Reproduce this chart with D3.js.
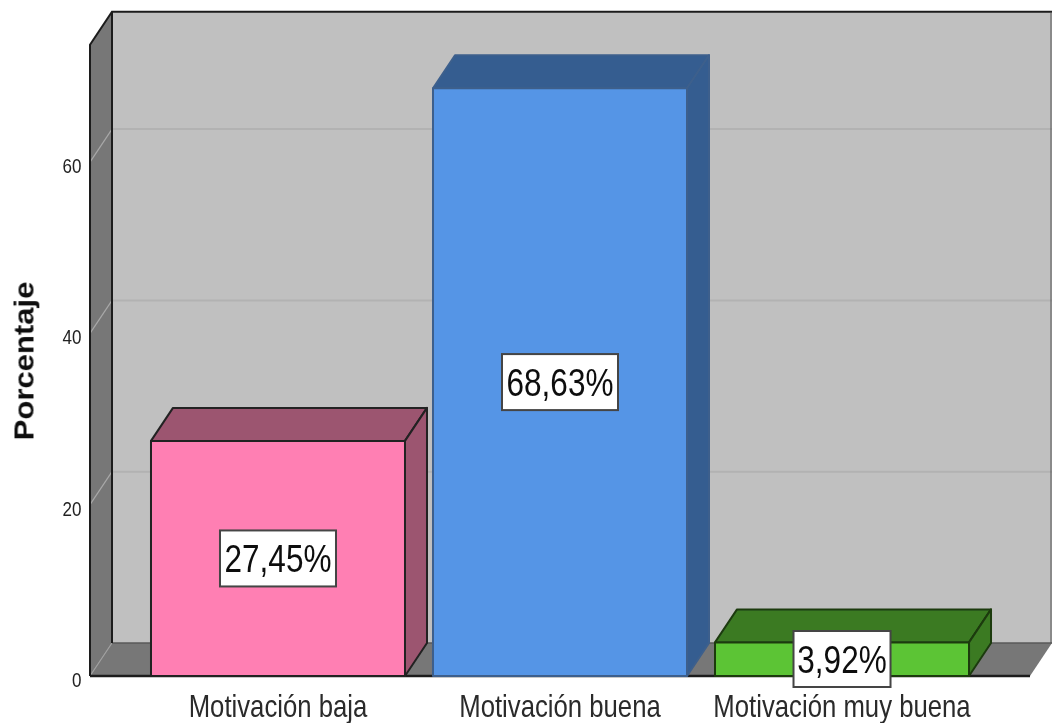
<!DOCTYPE html>
<html><head><meta charset="utf-8">
<script src="https://cdn.jsdelivr.net/npm/d3@7"></script>
<style>html,body{margin:0;padding:0;background:#fff}svg{display:block}text{font-family:"Liberation Sans",Arial,sans-serif}polygon{stroke-linejoin:round}</style>
</head><body><div id="c"></div>
<script>
const categories = ["Motivación baja","Motivación buena","Motivación muy buena"];
const values = [27.45,68.63,3.92];
const valueLabels = ["27,45%","68,63%","3,92%"];
const frontColors = ["#ff7fb3","#5595e6","#5cc435"];
const topColors = ["#9c5470","#345d90","#3b7a24"];
const sideColors = ["#9c5470","#345d90","#3b7a24"];
const edgeColors = ["#222","#3d5f8c","#1c3a10"];
const yTicks = [0,20,40,60];
const W=1052,H=723, dx=22, dy=-33;
const y=d3.scaleLinear().domain([0,80]).range([676,-9.2]);
const x=d3.scaleBand().domain(categories).range([137,983]).paddingInner(0.0993).paddingOuter(0.0496);
const xL=90,xR=1030,yTop=y(73.7);
const svg=d3.select("#c").append("svg").attr("width",W).attr("height",H);
const defs=svg.append("defs");
const blur=defs.append("filter").attr("id","soft").attr("x","-5%").attr("y","-5%").attr("width","110%").attr("height","110%");
blur.append("feGaussianBlur").attr("stdDeviation",0.45);
const tblur=defs.append("filter").attr("id","tsoft").attr("filterUnits","userSpaceOnUse").attr("x",0).attr("y",0).attr("width",W).attr("height",H);
tblur.append("feGaussianBlur").attr("stdDeviation",0.35);
const g=svg.append("g").attr("filter","url(#soft)");
const poly=(pts,fill,stroke,sw)=>g.append("polygon").attr("points",pts.map(p=>p.join(",")).join(" ")).attr("fill",fill).attr("stroke",stroke||"none").attr("stroke-width",sw||0);
// back wall
poly([[xL+dx,yTop+dy],[W,yTop+dy],[W,y(0)+dy],[xL+dx,y(0)+dy]],"#c0c0c0");
// floor
poly([[xL,y(0)],[xL+dx,y(0)+dy],[W,y(0)+dy],[xR,y(0)]],"#777777");
// left wall
poly([[xL,yTop],[xL+dx,yTop+dy],[xL+dx,y(0)+dy],[xL,y(0)]],"#777777");
// gridlines
yTicks.filter(t=>t>0).forEach(t=>{
  g.append("line").attr("x1",xL+dx).attr("x2",W).attr("y1",y(t)+dy).attr("y2",y(t)+dy).attr("stroke","#b2b2b2").attr("stroke-width",2);
  g.append("line").attr("x1",xL).attr("x2",xL+dx).attr("y1",y(t)).attr("y2",y(t)+dy).attr("stroke","#a8a8a8").attr("stroke-width",1.2);
});
g.append("line").attr("x1",xL).attr("x2",xL+dx).attr("y1",y(0)).attr("y2",y(0)+dy).attr("stroke","#a0a0a0").attr("stroke-width",1.2);
g.append("line").attr("x1",xL+dx).attr("x2",W).attr("y1",y(0)+dy).attr("y2",y(0)+dy).attr("stroke","#5a5a5a").attr("stroke-width",1.5);
// frame
g.append("polyline").attr("points",[[xL,y(0)],[xL,yTop],[xL+dx,yTop+dy],[W,yTop+dy]].map(p=>p.join(",")).join(" ")).attr("fill","none").attr("stroke","#1c1c1c").attr("stroke-width",2);
g.append("line").attr("x1",xL+dx).attr("x2",xL+dx).attr("y1",yTop+dy).attr("y2",y(0)+dy).attr("stroke","#1c1c1c").attr("stroke-width",2);
g.append("line").attr("x1",W-1).attr("x2",W-1).attr("y1",yTop+dy).attr("y2",y(0)+dy).attr("stroke","#555").attr("stroke-width",1);
g.append("line").attr("x1",xL).attr("x2",xR).attr("y1",y(0)).attr("y2",y(0)).attr("stroke","#1c1c1c").attr("stroke-width",2.5);
// bars
categories.forEach((c,i)=>{
  const x0=x(c),x1=x0+x.bandwidth(),yt=y(values[i]),yb=y(0),e=edgeColors[i],sw=2;
  poly([[x0,yt],[x0+dx,yt+dy],[x1+dx,yt+dy],[x1,yt]],topColors[i],e,sw);
  poly([[x1,yt],[x1+dx,yt+dy],[x1+dx,yb+dy],[x1,yb]],sideColors[i],e,sw);
  poly([[x0,yt],[x1,yt],[x1,yb],[x0,yb]],frontColors[i],e,sw);
});
const tg=svg.append("g").attr("filter","url(#tsoft)");
// y axis
const axis=d3.axisLeft(y).tickValues(yTicks).tickSize(0).tickPadding(0).tickFormat(d3.format("d"));
const ag=tg.append("g").attr("transform",`translate(${xL},0)`).call(axis);
ag.select(".domain").remove();
ag.selectAll("text").attr("x",0).attr("dy",0).attr("font-size",20.5).attr("fill","#222").attr("transform","translate(-8.5,10.5) scale(.83,1)");
// category labels
const xa=d3.axisBottom(x).tickSize(0).tickPadding(0);
const xg=tg.append("g").attr("transform",`translate(0,${y(0)})`).call(xa);
xg.select(".domain").remove();
xg.selectAll("text").attr("y",0).attr("dy",0).attr("font-size",31).attr("fill","#2c2c2c").attr("transform","translate(0,41) scale(.83,1)");
// value labels
categories.forEach((c,i)=>{
  const cx=x(c)+x.bandwidth()/2, cy=(y(values[i])+y(0))/2;
  const ly=i==2?659:cy;
  const bw=i==2?97:116, bh=56;
  tg.append("rect").attr("x",cx-bw/2).attr("y",ly-bh/2).attr("width",bw).attr("height",bh).attr("fill","#fff").attr("stroke","#444").attr("stroke-width",2);
  tg.append("text").attr("transform",`translate(${cx},${ly+13.5}) scale(.83,1)`).attr("text-anchor","middle").attr("font-size",38).attr("fill","#111").text(valueLabels[i]);
});
tg.append("text").attr("transform","translate(33.5,361) rotate(-90) scale(1.15,1)").attr("text-anchor","middle").attr("font-size",27).attr("font-weight","bold").attr("fill","#111").text("Porcentaje");
</script></body></html>
